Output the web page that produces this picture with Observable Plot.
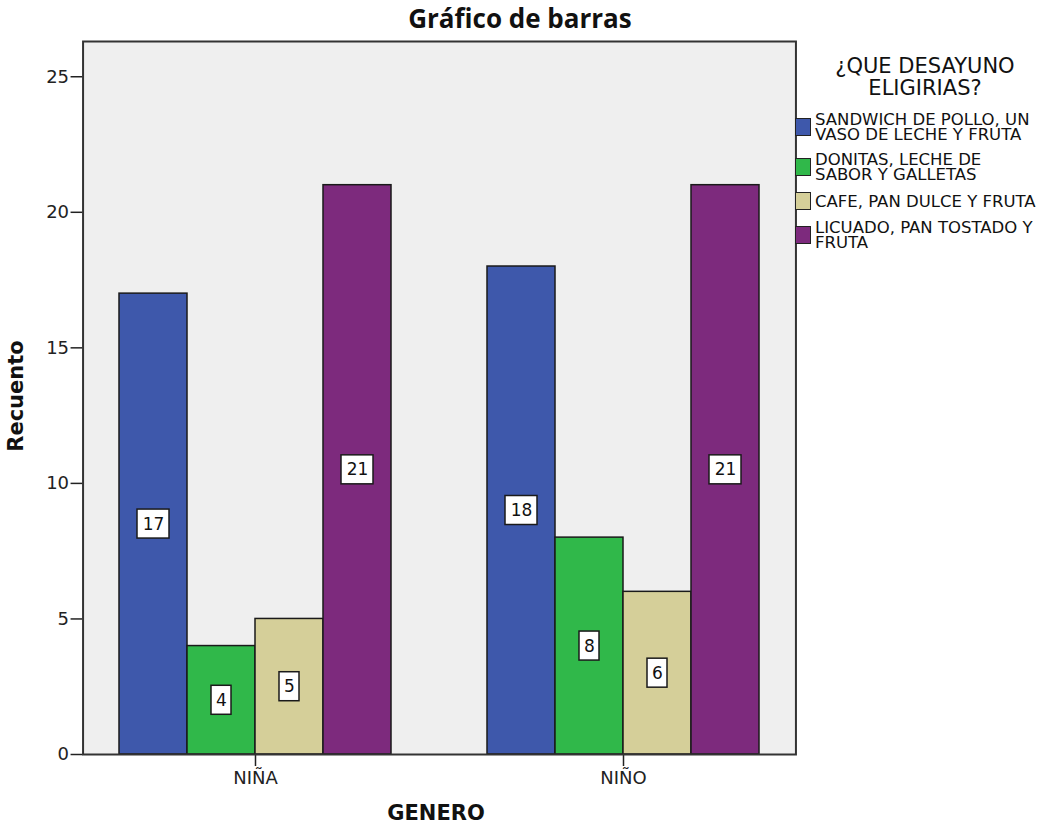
<!DOCTYPE html>
<html>
<head>
<meta charset="utf-8">
<script src="https://cdn.jsdelivr.net/npm/d3@7"></script>
<script src="https://cdn.jsdelivr.net/npm/@observablehq/plot@0.6"></script>
<style>
  body { margin: 0; background: #fff; }
  #wrap { position: relative; width: 1055px; height: 832px; font-family: "DejaVu Sans", sans-serif; color: #111; overflow: hidden; }
  #chart { position: absolute; left: 0; top: 0; }
  #title { position: absolute; left: 0; top: 0; width: 1040px; text-align: center; font: bold 26px "Open Sans", sans-serif; line-height: normal; color: #111; }
  #ylabel { position: absolute; left: 16px; top: 396px; transform: translate(-50%, -50%) rotate(-90deg); font: bold 21px "DejaVu Sans", sans-serif; line-height: normal; white-space: nowrap; }
  #xlabel { position: absolute; left: 336px; top: 801px; width: 200px; text-align: center; font: bold 21px "DejaVu Sans", sans-serif; line-height: normal; }
  #legend-title { position: absolute; left: 795px; top: 55px; width: 260px; text-align: center; font: 21px/22px "DejaVu Sans", sans-serif; }
  #legend { position: absolute; left: 795px; top: 112px; display: flex; flex-direction: column; gap: 10px; }
  .row { display: flex; align-items: center; }
  .sw { width: 16px; height: 18px; border: 1px solid #222; box-sizing: border-box; flex: none; margin-right: 4px; }
  .lab { font: 16.5px/15px "DejaVu Sans", sans-serif; white-space: pre; color: #111; }
</style>
</head>
<body>
<div id="wrap">
  <div id="chart"></div>
  <div id="title"></div>
  <div id="ylabel"></div>
  <div id="xlabel"></div>
  <div id="legend-title"></div>
  <div id="legend"></div>
</div>
<script>
const titleText = "Gráfico de barras";
const yLabelText = "Recuento";
const xLabelText = "GENERO";
const legendTitleText = "¿QUE DESAYUNO\nELIGIRIAS?";
const genders = ["NIÑA", "NIÑO"];
const options = [
  "SANDWICH DE POLLO, UN VASO DE LECHE Y FRUTA",
  "DONITAS, LECHE DE SABOR Y GALLETAS",
  "CAFE, PAN DULCE Y FRUTA",
  "LICUADO, PAN TOSTADO Y FRUTA"
];
const optionLegendLabels = [
  "SANDWICH DE POLLO, UN\nVASO DE LECHE Y FRUTA",
  "DONITAS, LECHE DE\nSABOR Y GALLETAS",
  "CAFE, PAN DULCE Y FRUTA",
  "LICUADO, PAN TOSTADO Y\nFRUTA"
];
const countsNina = [17, 4, 5, 21];
const countsNino = [18, 8, 6, 21];
const yTicks = [0, 5, 10, 15, 20, 25];
const colors = ["#3e58ab", "#30b84a", "#d5cf99", "#7d2a7d"];

const rows = [];
options.forEach((o, i) => rows.push({gender: genders[0], option: o, count: countsNina[i]}));
options.forEach((o, i) => rows.push({gender: genders[1], option: o, count: countsNino[i]}));
const twoDigit = rows.filter(d => d.count >= 10);
const oneDigit = rows.filter(d => d.count < 10);

// layout: plot area spans 82..795; fx bands are padded inside it
const W = 800, ML = 82, MR = 5;
const padInner = 0.261, padOuter = 0.099;
const step = (W - ML - MR) / (genders.length - padInner + 2 * padOuter);
const outerGap = step * padOuter;

const chart = Plot.plot({
  width: W,
  height: 832,
  marginLeft: ML,
  marginRight: MR,
  marginTop: 41,
  marginBottom: 78,
  style: {fontFamily: "DejaVu Sans, sans-serif", fontSize: "18px", color: "#222", background: "transparent", overflow: "visible"},
  fx: {domain: genders, paddingInner: padInner, paddingOuter: padOuter, label: null},
  x: {domain: options, padding: 0, axis: null},
  y: {domain: [0, 26.3], axis: null},
  color: {domain: options, range: colors},
  marks: [
    Plot.frame({facet: "super", fill: "#efefef", insetLeft: -outerGap, insetRight: -outerGap}),
    Plot.barY(rows, {fx: "gender", x: "option", y: "count", fill: "option", stroke: "#1a1a1a", strokeWidth: 1.5}),
    Plot.barY(twoDigit, {fx: "gender", x: "option", y1: d => d.count / 2, y2: d => d.count / 2, fill: "white", stroke: "#1a1a1a", strokeWidth: 1.5, insetLeft: 18, insetRight: 18, insetTop: -14.5, insetBottom: -14.5}),
    Plot.barY(oneDigit, {fx: "gender", x: "option", y1: d => d.count / 2, y2: d => d.count / 2, fill: "white", stroke: "#1a1a1a", strokeWidth: 1.5, insetLeft: 24, insetRight: 24, insetTop: -14.5, insetBottom: -14.5}),
    Plot.text(rows, {fx: "gender", x: "option", y: d => d.count / 2, text: d => String(d.count), fontSize: 17, fill: "#111"}),
    Plot.axisY({ticks: yTicks, tickSize: 12, tickPadding: 2, fontSize: 18, strokeWidth: 1.5, label: null, dx: -outerGap}),
    Plot.axisFx({anchor: "bottom", tickSize: 12, tickPadding: 5, fontSize: 18, strokeWidth: 1.5, label: null}),
    Plot.frame({facet: "super", stroke: "#333", strokeWidth: 2, insetLeft: -outerGap, insetRight: -outerGap})
  ]
});
document.getElementById("chart").appendChild(chart);

document.getElementById("title").textContent = titleText;
document.getElementById("ylabel").textContent = yLabelText;
document.getElementById("xlabel").textContent = xLabelText;
const lt = document.getElementById("legend-title");
lt.style.whiteSpace = "pre";
lt.textContent = legendTitleText;

const legend = document.getElementById("legend");
options.forEach((o, i) => {
  const row = document.createElement("div");
  row.className = "row";
  const sw = document.createElement("div");
  sw.className = "sw";
  sw.style.background = colors[i];
  const lab = document.createElement("div");
  lab.className = "lab";
  lab.textContent = optionLegendLabels[i];
  row.appendChild(sw);
  row.appendChild(lab);
  legend.appendChild(row);
});
</script>
</body>
</html>
